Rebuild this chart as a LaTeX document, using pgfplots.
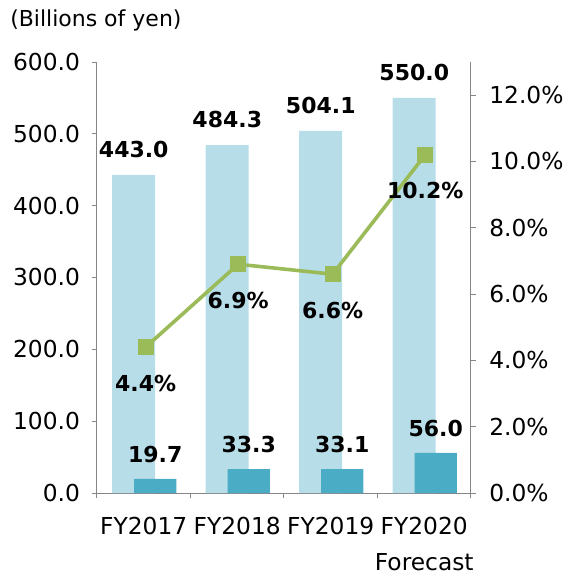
\documentclass[border=0pt]{standalone}
\usepackage{fontspec}
\setmainfont{DejaVu Sans}
\usepackage{pgfplots}
\pgfplotsset{compat=1.18}
\definecolor{lightbar}{HTML}{B7DDE8}
\definecolor{darkbar}{HTML}{4BACC6}
\definecolor{linegreen}{HTML}{9BBB59}
\definecolor{axisgray}{HTML}{868686}
\newcommand{\fs}{\fontsize{16.5}{19.5}\selectfont}
\newcommand{\ft}{\fontsize{17.5}{21}\selectfont}
\begin{document}
\begin{tikzpicture}
\path[use as bounding box] (-72.75pt,-62.25pt) rectangle (351.75pt,369.75pt);
\node[anchor=west,inner sep=0pt,font=\fs] at (-65.25pt,354.75pt) {(Billions of yen)};
\begin{axis}[
  at={(0pt,0pt)}, anchor=south west,
  scale only axis, width=280.5pt, height=323.25pt,
  xmin=-0.5, xmax=3.5, ymin=0, ymax=600,
  axis y line*=left, axis x line*=bottom,
  axis line style={draw=axisgray, line width=0.75pt},
  every tick/.style={draw=axisgray, line width=0.75pt},
  tick align=outside, major tick length=3.75pt,
  xtick={-0.5,0.5,1.5,2.5,3.5},
  xticklabels={FY2017,FY2018,FY2019,{FY2020\\[6.5pt]Forecast},{}},
  x tick label style={align=center, anchor=north, xshift=35.06pt, yshift=-10.5pt, font=\ft},
  ytick={0,100,...,600},
  y tick label style={font=\ft, xshift=-5.5pt, /pgf/number format/fixed, /pgf/number format/fixed zerofill, /pgf/number format/precision=1},
  /pgf/number format/assume math mode=true,
  clip=false,
]
\addplot[ybar, bar width=0.46, bar shift=-0.107, fill=lightbar, draw=none,
  nodes near coords={\pgfmathprintnumber[fixed,fixed zerofill,precision=1]{\pgfplotspointmeta}},
  every node near coord/.append style={font=\fs\bfseries, anchor=center, yshift=19pt, xshift=-7.5pt}]
  coordinates {(0,443.0) (1,484.3) (2,504.1) (3,550.0)};
\addplot[ybar, bar width=0.45, bar shift=0.123, fill=darkbar, draw=none,
  nodes near coords={\pgfmathprintnumber[fixed,fixed zerofill,precision=1]{\pgfplotspointmeta}},
  every node near coord/.append style={font=\fs\bfseries, anchor=center, yshift=18.5pt, xshift=8.6pt}]
  coordinates {(0,19.7) (1,33.3) (2,33.1) (3,56.0)};
\end{axis}
\begin{axis}[
  at={(0pt,0pt)}, anchor=south west,
  scale only axis, width=280.5pt, height=323.25pt,
  xmin=-0.5, xmax=3.5, ymin=0, ymax=13,
  axis y line*=right, axis x line=none,
  axis line style={draw=axisgray, line width=0.75pt},
  every tick/.style={draw=axisgray, line width=0.75pt},
  tick align=outside, major tick length=3.75pt,
  ytick={0,2,...,12},
  yticklabel={\pgfmathprintnumber[fixed,fixed zerofill,precision=1]{\tick}\%},
  y tick label style={font=\ft, xshift=6.5pt},
  /pgf/number format/assume math mode=true,
  clip=false,
]
\addplot[color=linegreen, line width=2.7pt, mark=square*, mark size=4.7pt,
  mark options={fill=linegreen, draw=none},
  nodes near coords={\pgfmathprintnumber[fixed,fixed zerofill,precision=1]{\pgfplotspointmeta}\%},
  every node near coord/.append style={font=\fs\bfseries, text=black, anchor=center, yshift=-27pt}]
  coordinates {(0.02,4.4) (1.01,6.9) (2.02,6.6) (3.01,10.2)};
\end{axis}
\end{tikzpicture}
\end{document}
